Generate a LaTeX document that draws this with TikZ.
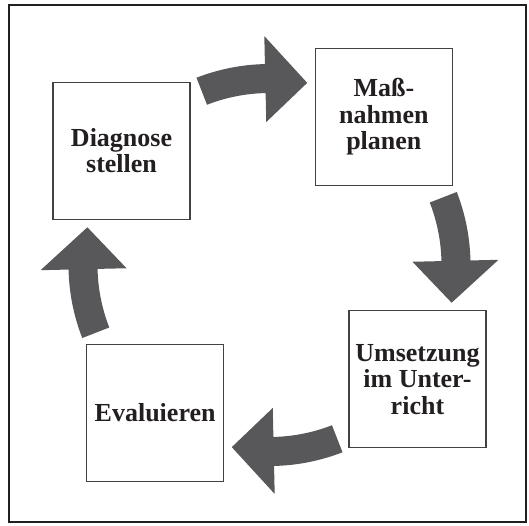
\documentclass[tikz,border=0pt]{standalone}
\usepackage{fontspec}
\setmainfont{Liberation Serif}
\usepackage{xcolor}
\usepackage{tikz}

\definecolor{arrowgray}{RGB}{88,88,91}
\definecolor{inkblack}{RGB}{35,31,32}

\tikzset{
  stepbox/.style={draw=inkblack!85, line width=1.2pt, fill=white, minimum size=137pt,
    inner sep=0pt, align=center, text=inkblack, font=\fontsize{26}{26.5}\selectfont\bfseries},
  cyclearrow/.style={fill=arrowgray}
}

\begin{document}
\begin{tikzpicture}
\useasboundingbox (-269.5pt,-260pt) rectangle (259.5pt,265pt);
\draw[line width=2.5pt, draw=inkblack] (-260.5pt,-257pt) rectangle (256.5pt,260pt);

\node[stepbox] (diag) at (142.3:187pt) {Diagnose\\stellen};
\node[stepbox] (plan) at (52.3:187pt) {Maß-\\nahmen\\planen};
\node[stepbox] (umse) at (-37.7:187pt) {Umsetzung\\im Unter-\\richt};
\node[stepbox] (eval) at (-127.7:187pt) {Evaluieren};

\foreach \m in {97.3, 7.3, -82.7, -172.7} {
  \pgfmathsetmacro{\tl}{\m+14}
  \pgfmathsetmacro{\hb}{\m-6}
  \pgfmathsetmacro{\tp}{\m-19}
  \fill[cyclearrow] (\tl:201pt) arc[start angle=\tl, end angle=\hb, radius=201pt]
    -- (\hb:229pt) -- (\tp:186pt) -- (\hb:143pt) -- (\hb:172pt)
    arc[start angle=\hb, end angle=\tl, radius=172pt] -- cycle;
}
\end{tikzpicture}
\end{document}
